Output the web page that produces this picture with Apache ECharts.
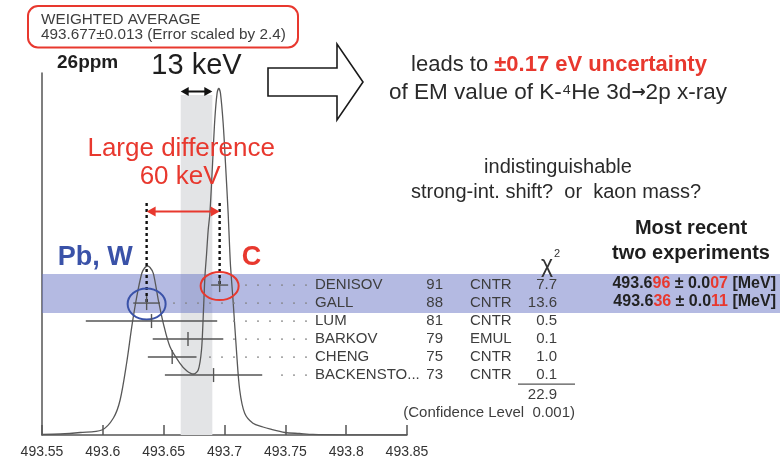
<!DOCTYPE html>
<html>
<head>
<meta charset="utf-8">
<script src="https://cdn.jsdelivr.net/npm/echarts@6/dist/echarts.min.js"></script>
<style>
  html, body { margin: 0; padding: 0; background: #fff; }
  #chart { width: 780px; height: 461px; }
</style>
</head>
<body>
<div id="chart"></div>
<script>
// Charged kaon mass measurements (MeV), newest first
const experiments = ['DENISOV', 'GALL', 'LUM', 'BARKOV', 'CHENG', 'BACKENSTO...'];
const years = ['91', '88', '81', '79', '75', '73'];
const techniques = ['CNTR', 'CNTR', 'CNTR', 'EMUL', 'CNTR', 'CNTR'];
const masses = [493.696, 493.636, 493.640, 493.670, 493.657, 493.691];
const errors = [0.007, 0.011, 0.054, 0.029, 0.020, 0.040];
const chi2 = ['7.7', '13.6', '0.5', '0.1', '1.0', '0.1'];
const chi2Total = '22.9';
const confidenceLevel = '0.001';
const targets = ['C', 'Pb, W'];           // targets of the two most recent experiments

// Weighted average of all measurements
const weightedAverage = 493.677;
const weightedError = 0.013;
const errorScale = 2.4;

// Mass axis
const massMin = 493.55;
const massMax = 493.85;
const massStep = 0.05;

// Ideogram: summed Gaussians of the measurements (relative height)
const ideogramMass = [
  493.5500, 493.5650, 493.5814, 493.5992, 493.6087, 493.6142, 493.6197, 493.6238,
  493.6279, 493.6320, 493.6343, 493.6366, 493.6388, 493.6415, 493.6456, 493.6497,
  493.6552, 493.6634, 493.6689, 493.6743, 493.6784, 493.6811, 493.6825, 493.6839,
  493.6852, 493.6866, 493.6880, 493.6902, 493.6920, 493.6939, 493.6953, 493.6967,
  493.6989, 493.7008, 493.7030, 493.7043, 493.7050, 493.7070, 493.7098, 493.7125,
  493.7166, 493.7234, 493.7316, 493.7371, 493.7497, 493.7617, 493.7726, 493.7970,
  493.8500
];
const ideogramHeight = [
  0.19, 0.28, 0.69, 1.38, 4.70, 9.67, 20.17, 29.92,
  38.20, 44.67, 46.13, 46.69, 46.27, 44.67, 37.29, 30.86,
  24.39, 19.81, 17.76, 16.85, 17.96, 23.48, 32.68, 43.73,
  49.72, 56.63, 61.24, 75.06, 87.02, 94.39, 95.77, 94.39,
  86.10, 75.06, 61.24, 51.10, 46.41, 37.29, 23.48, 12.43,
  5.99, 3.23, 2.21, 1.66, 0.69, 0.41, 0.15, 0.03,
  0.00
];

// ---- styling / layout ----
const FONT = '"Liberation Sans", Arial, Helvetica, sans-serif';
const RED = '#e8382e';
const BLUE = '#3a52a8';
const INK = '#3e3e3e';
const BAR = '#555';
const COL = { name: 315, year: 443, tech: 470, chi: 557, ruleL: 518, ruleR: 575, value: 776 };
const BAND_TOP = 95;        // top of the weighted-average band
const SPAN_Y = 91.5;        // arrow above the band
const DIFF_Y = 211.5;       // arrow between the two recent results
const GUIDE_TOP = 203;      // top of the dotted guides

function txt(s, x, y, o) {
  return {
    type: 'text',
    style: Object.assign({
      text: s, x: x, y: y, fill: INK, fontSize: 15, fontFamily: FONT,
      align: 'left', verticalAlign: 'middle'
    }, o || {})
  };
}
function seg(x1, y1, x2, y2, color, w, dash) {
  const st = { stroke: color, lineWidth: w };
  if (dash) st.lineDash = dash;
  return { type: 'line', shape: { x1, y1, x2, y2 }, style: st };
}
function doubleArrow(x1, x2, y, color, w, len, half) {
  return [
    seg(x1 + len * 0.6, y, x2 - len * 0.6, y, color, w),
    { type: 'polygon', shape: { points: [[x1, y], [x1 + len, y - half], [x1 + len, y + half]] }, style: { fill: color } },
    { type: 'polygon', shape: { points: [[x2, y], [x2 - len, y - half], [x2 - len, y + half]] }, style: { fill: color } }
  ];
}
function split2(s) { return [s.slice(0, -2), s.slice(-2)]; }

const chart = echarts.init(document.getElementById('chart'), null, { renderer: 'canvas' });

const rowData = masses.map((m, i) => [m, i, errors[i]]);

function renderRow(params, api) {
  const i = params.dataIndex;
  const m = api.value(0), row = api.value(1), e = api.value(2);
  const c = api.coord([m, row]);
  const cx = c[0], cy = c[1];
  const xl = api.coord([m - e, row])[0];
  const xr = api.coord([m + e, row])[0];
  const kids = [];

  // dotted guide from the bar to the label
  for (let x = 306; x > xr + 8; x -= 12) {
    kids.push({ type: 'circle', shape: { cx: x, cy: cy, r: 0.9 }, style: { fill: '#808080' } });
  }

  if (i < targets.length) {
    const col = i === 0 ? RED : BLUE;
    kids.push(seg(cx, GUIDE_TOP, cx, cy, '#111', 2.4, [3, 3]));
    kids.push({ type: 'ellipse', shape: { cx: cx, cy: cy + 1, rx: 19, ry: i === 0 ? 14 : 15.5 },
      style: { stroke: col, lineWidth: 2, fill: 'none' } });
    const lbl = i === 0
      ? txt(targets[i], cx + 22, cy - 28, { fill: RED, fontSize: 27, fontWeight: 'bold' })
      : txt(targets[i], cx - 14, cy - 46, { fill: BLUE, fontSize: 27, fontWeight: 'bold', align: 'right' });
    kids.push(lbl);
    const mv = split2(m.toFixed(3));
    const ev = split2(e.toFixed(3));
    kids.push(txt('{k|' + mv[0] + '}{r|' + mv[1] + '}{k| ± ' + ev[0] + '}{r|' + ev[1] + '}{k| [MeV]}',
      COL.value, cy - 1.5, {
        align: 'right',
        rich: {
          k: { fill: '#222', fontSize: 16, fontWeight: 'bold', fontFamily: FONT },
          r: { fill: RED, fontSize: 16, fontWeight: 'bold', fontFamily: FONT }
        }
      }));
  }

  kids.push(seg(xl, cy, xr, cy, BAR, 1.4));
  kids.push(seg(cx, cy - 7, cx, cy + 7, BAR, 1.4));

  kids.push(txt(experiments[i], COL.name, cy));
  kids.push(txt(years[i], COL.year, cy, { align: 'right' }));
  kids.push(txt(techniques[i], COL.tech, cy));
  kids.push(txt(chi2[i], COL.chi, cy, { align: 'right' }));

  if (i === 0) {
    kids.push(txt('χ', 547, cy - 19, { fontSize: 23, align: 'center', fill: '#333' }));
    kids.push(txt('2', 557, cy - 31, { fontSize: 11, align: 'center', fill: '#333' }));
  }
  if (i === masses.length - 1) {
    kids.push(seg(COL.ruleL, cy + 9, COL.ruleR, cy + 9, BAR, 1.2));
    kids.push(txt(chi2Total, COL.chi, cy + 20, { align: 'right' }));
    kids.push(txt('(Confidence Level  ' + confidenceLevel + ')', COL.ruleR, cy + 38, { align: 'right' }));
  }
  return { type: 'group', children: kids };
}

function renderRecentBand(params, api) {
  const x0 = api.coord([massMin, 0])[0];
  const y0 = api.coord([massMin, 0])[1] - 11;
  const y1 = api.coord([massMin, targets.length - 1])[1] + 10;
  return { type: 'rect', shape: { x: x0, y: y0, width: 780 - x0, height: y1 - y0 },
    style: { fill: 'rgba(105,117,198,0.5)' } };
}

function renderAverageBand(params, api) {
  const lo = api.coord([api.value(0), 0]);
  const hi = api.coord([api.value(1), 0]);
  return { type: 'rect', shape: { x: lo[0], y: BAND_TOP, width: hi[0] - lo[0], height: lo[1] - BAND_TOP },
    style: { fill: '#e3e4e6' } };
}

function renderNotes(params, api) {
  const kids = [];
  const lo = api.coord([weightedAverage - weightedError, 0])[0];
  const hi = api.coord([weightedAverage + weightedError, 0])[0];
  const mid = (lo + hi) / 2;
  kids.push.apply(kids, doubleArrow(lo, hi, SPAN_Y, '#111', 2, 8, 4.5));
  kids.push(txt(Math.round(weightedError * 1000) + ' keV', mid, 65.5,
    { fontSize: 29, align: 'center', fill: '#1e1e1e' }));
  kids.push(txt(Math.round(weightedError / weightedAverage * 1e6) + 'ppm', 57, 63,
    { fontSize: 19, fontWeight: 'bold', fill: '#1e1e1e' }));

  const xa = api.coord([masses[1], 0])[0];
  const xb = api.coord([masses[0], 0])[0];
  kids.push.apply(kids, doubleArrow(xa, xb, DIFF_Y, RED, 2, 9, 5));
  const dm = Math.round((masses[0] - masses[1]) * 1000);
  kids.push(txt('Large difference', (xa + xb) / 2 - 2, 149, { fontSize: 26, align: 'center', fill: RED }));
  kids.push(txt(dm + ' keV', (xa + xb) / 2 - 3, 177, { fontSize: 26, align: 'center', fill: RED }));
  return { type: 'group', children: kids };
}

const option = {
  backgroundColor: '#fff',
  animation: false,
  grid: { left: 42, right: 373, top: 73, bottom: 26 },
  xAxis: {
    type: 'value', min: massMin, max: massMax, interval: massStep,
    axisLine: { lineStyle: { color: BAR, width: 1.5 } },
    axisTick: { inside: true, length: 10, lineStyle: { color: BAR, width: 1.5 } },
    axisLabel: { fontSize: 14, color: '#333', margin: 10, fontFamily: FONT },
    splitLine: { show: false }
  },
  yAxis: [
    {
      type: 'value', min: 0, max: 100,
      axisLine: { show: true, lineStyle: { color: BAR, width: 1.5 } },
      axisTick: { show: false }, axisLabel: { show: false }, splitLine: { show: false }
    },
    {
      type: 'value', min: -11.78, max: 8.33, inverse: true, show: false,
      splitLine: { show: false }
    }
  ],
  series: [
    {
      type: 'custom', z: 1, xAxisIndex: 0, yAxisIndex: 0,
      data: [[weightedAverage - weightedError, weightedAverage + weightedError]],
      renderItem: renderAverageBand, silent: true
    },
    {
      type: 'custom', z: 2, xAxisIndex: 0, yAxisIndex: 1,
      data: [[massMin, 0]], renderItem: renderRecentBand, silent: true
    },
    {
      type: 'line', z: 3, xAxisIndex: 0, yAxisIndex: 0,
      data: ideogramMass.map((m, i) => [m, ideogramHeight[i]]),
      showSymbol: false, symbol: 'none', smooth: 0.3,
      lineStyle: { color: '#585858', width: 1.3 }
    },
    {
      type: 'custom', z: 4, xAxisIndex: 0, yAxisIndex: 1,
      data: rowData, renderItem: renderRow, silent: true
    },
    {
      type: 'custom', z: 5, xAxisIndex: 0, yAxisIndex: 1,
      data: [[massMin, 0]], renderItem: renderNotes, silent: true
    }
  ],
  graphic: [
    { type: 'rect', z: 10, shape: { x: 28, y: 6, width: 270, height: 41.5, r: 10 },
      style: { stroke: RED, lineWidth: 2, fill: '#fff' } },
    { type: 'text', z: 11, style: { text: 'WEIGHTED AVERAGE', x: 41, y: 19.5, fill: INK,
      fontSize: 15.3, fontFamily: FONT, verticalAlign: 'middle' } },
    { type: 'text', z: 11, style: {
      text: weightedAverage.toFixed(3) + '±' + weightedError.toFixed(3) + ' (Error scaled by ' + errorScale + ')',
      x: 41, y: 34.5, fill: INK, fontSize: 15.3, fontFamily: FONT, verticalAlign: 'middle' } },
    { type: 'polygon', z: 10,
      shape: { points: [[268, 68], [337, 68], [337, 44], [363, 82], [337, 120], [337, 96], [268, 96]] },
      style: { fill: '#fff', stroke: '#1a1a1a', lineWidth: 1.6 } },
    { type: 'text', z: 11, style: {
      text: '{k|leads to }{r|±0.17 eV uncertainty}', x: 559, y: 65, align: 'center', verticalAlign: 'middle',
      rich: {
        k: { fill: '#2a2a2a', fontSize: 22, fontFamily: FONT },
        r: { fill: RED, fontSize: 22, fontWeight: 'bold', fontFamily: FONT }
      } } },
    { type: 'text', z: 11, style: {
      text: '{k|of EM value of K-⁴He 3d}{a|→}{k|2p x-ray}', x: 558, y: 93, align: 'center', verticalAlign: 'middle',
      rich: {
        k: { fill: '#2a2a2a', fontSize: 22.5, fontFamily: FONT },
        a: { fill: '#2a2a2a', fontSize: 17, fontFamily: '"DejaVu Sans", sans-serif', fontWeight: 'bold' }
      } } },
    { type: 'text', z: 11, style: {
      text: 'indistinguishable', x: 558, y: 167, align: 'center', verticalAlign: 'middle',
      fill: '#2a2a2a', fontSize: 20, fontFamily: FONT } },
    { type: 'text', z: 11, style: {
      text: 'strong-int. shift?  or  kaon mass?', x: 556, y: 192, align: 'center', verticalAlign: 'middle',
      fill: '#2a2a2a', fontSize: 20, fontFamily: FONT } },
    { type: 'text', z: 11, style: {
      text: 'Most recent', x: 691, y: 228, align: 'center', verticalAlign: 'middle',
      fill: '#1e1e1e', fontSize: 20, fontWeight: 'bold', fontFamily: FONT } },
    { type: 'text', z: 11, style: {
      text: 'two experiments', x: 691, y: 253, align: 'center', verticalAlign: 'middle',
      fill: '#1e1e1e', fontSize: 20, fontWeight: 'bold', fontFamily: FONT } }
  ]
};

chart.setOption(option);
</script>
</body>
</html>
